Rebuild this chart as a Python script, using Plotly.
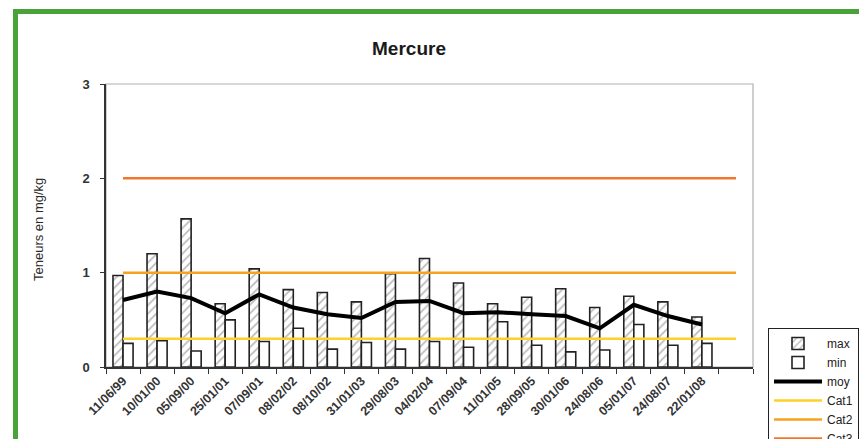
import plotly.graph_objects as go

# Sampling dates (last slot left blank so the threshold lines run past the data)
dates = ["11/06/99", "10/01/00", "05/09/00", "25/01/01", "07/09/01", "08/02/02",
         "08/10/02", "31/01/03", "29/08/03", "04/02/04", "07/09/04", "11/01/05",
         "28/09/05", "30/01/06", "24/08/06", "05/01/07", "24/08/07", "22/01/08"]
categories = dates + [" "]

# Mercury contents (mg/kg)
max_vals = [0.97, 1.20, 1.57, 0.67, 1.04, 0.82, 0.79, 0.69, 0.99, 1.15,
            0.89, 0.67, 0.74, 0.83, 0.63, 0.75, 0.69, 0.53]
min_vals = [0.25, 0.28, 0.17, 0.50, 0.27, 0.41, 0.19, 0.26, 0.19, 0.27,
            0.21, 0.48, 0.23, 0.16, 0.18, 0.45, 0.23, 0.25]
moy_vals = [0.71, 0.80, 0.73, 0.57, 0.77, 0.63, 0.56, 0.52, 0.69, 0.70,
            0.57, 0.58, 0.56, 0.54, 0.41, 0.66, 0.54, 0.45]

# Quality thresholds
cat1_level = 0.3
cat2_level = 1.0
cat3_level = 2.0

W, H = 859, 439
ML, MR, MT, MB = 106, 106, 84, 72
PW, PH = W - ML - MR, H - MT - MB

def px_x(x):
    return (x - ML) / PW

def px_y(y):
    return (H - MB - y) / PH

fig = go.Figure()

fig.add_trace(go.Bar(
    x=dates, y=max_vals, name="max",
    marker=dict(color="white", line=dict(color="#222", width=1.6),
                pattern=dict(shape="/", fgcolor="#7a7a7a", bgcolor="white",
                             size=6, solidity=0.3)),
))
fig.add_trace(go.Bar(
    x=dates, y=min_vals, name="min",
    marker=dict(color="white", line=dict(color="#222", width=1.6)),
))
fig.add_trace(go.Scatter(
    x=dates, y=moy_vals, name="moy", mode="lines",
    line=dict(color="black", width=4),
))
for name, level, color in [("Cat1", cat1_level, "#ffd027"),
                           ("Cat2", cat2_level, "#f7a21e"),
                           ("Cat3", cat3_level, "#f2772a")]:
    fig.add_trace(go.Scatter(
        x=categories, y=[level] * len(categories), name=name, mode="lines",
        line=dict(color=color, width=2.5),
    ))

fig.update_layout(
    width=W, height=H,
    margin=dict(l=ML, r=MR, t=MT, b=MB, autoexpand=False),
    paper_bgcolor="white", plot_bgcolor="white",
    font=dict(family="Liberation Sans, Arial, sans-serif", color="#2a2a2a"),
    barmode="group", bargap=0.41, bargroupgap=0,
    title=dict(text="<b>Mercure</b>", x=409 / W, xref="container", xanchor="center",
               y=1 - 48 / H, yref="container", yanchor="middle",
               font=dict(size=19, color="#1a1a1a")),
    showlegend=True,
    legend=dict(x=768 / W, xref="container", xanchor="left",
                y=1 - 328 / H, yref="container", yanchor="top",
                bgcolor="white", bordercolor="#222", borderwidth=1,
                font=dict(size=12, color="#222"), itemwidth=48,
                tracegroupgap=0, traceorder="normal"),
)

fig.update_xaxes(
    type="category", categoryorder="array", categoryarray=categories,
    range=[-0.5, len(categories) - 0.5],
    showline=True, linecolor="#333", linewidth=1.5,
    ticks="outside", tickson="boundaries", ticklen=5, tickcolor="#333",
    tickangle=-45, tickfont=dict(size=12.5, color="#333", weight="bold"),
    showgrid=False, zeroline=False,
)
fig.update_yaxes(
    range=[0, 3], tickvals=[0, 1, 2, 3],
    showline=True, linecolor="#333", linewidth=1.5,
    ticks="outside", ticklen=4, tickcolor="#333", ticklabelstandoff=8,
    tickfont=dict(size=13, color="#333", weight="bold"),
    showgrid=False, zeroline=False,
)

# light frame on top/right of the plot area
fig.add_shape(type="rect", xref="paper", yref="paper", x0=0, x1=1, y0=0, y1=1,
              line=dict(color="#b0b0b0", width=1.2), layer="below")

# green page border
fig.add_shape(type="rect", xref="paper", yref="paper",
              x0=px_x(15.5), x1=px_x(880), y0=px_y(460), y1=px_y(11.5),
              line=dict(color="#4aa339", width=5))

fig.add_annotation(text="Teneurs en mg/kg", textangle=-90, showarrow=False,
                   xref="paper", yref="paper", x=px_x(38), y=px_y(230),
                   xanchor="center", yanchor="middle",
                   font=dict(size=13, color="#2a2a2a"))

fig.write_html("out.html")
